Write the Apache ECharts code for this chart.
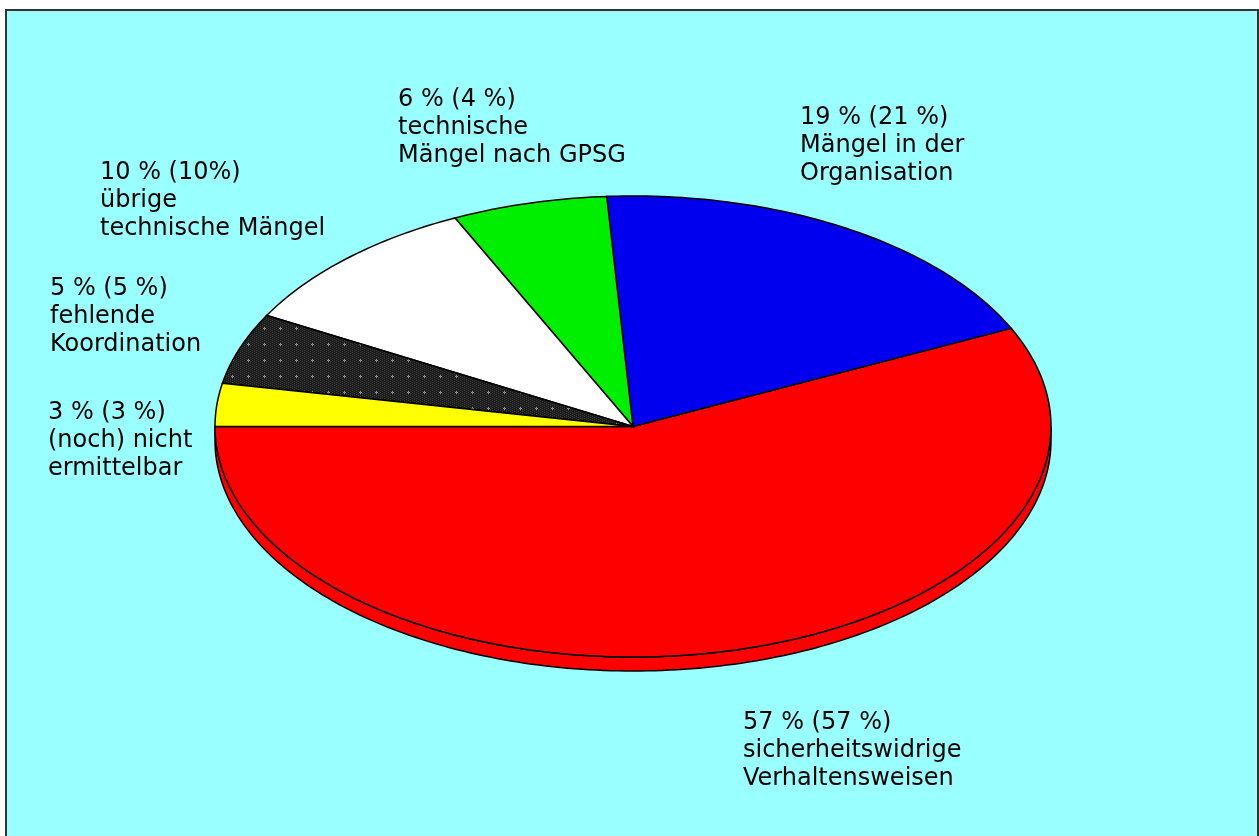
<!DOCTYPE html>
<html>
<head>
<meta charset="utf-8">
<script src="https://cdn.jsdelivr.net/npm/echarts@6/dist/echarts.min.js"></script>
<style>
  html, body { margin: 0; padding: 0; background: #fff; }
  #chart { width: 1259px; height: 836px; }
</style>
</head>
<body>
<div id="chart"></div>
<script>
// Anteile in %, Reihenfolge ab 9 Uhr gegen den Uhrzeigersinn
var shares = [57, 19, 6, 10, 5, 3];
var sharesPrev = [57, 21, 4, 10, 5, 3];
var categories = [
    'sicherheitswidrige\nVerhaltensweisen',
    'Mängel in der\nOrganisation',
    'technische\nMängel nach GPSG',
    'übrige\ntechnische Mängel',
    'fehlende\nKoordination',
    '(noch) nicht\nermittelbar'
];
var labelHead = ['57 % (57 %)', '19 % (21 %)', '6 % (4 %)', '10 % (10%)', '5 % (5 %)', '3 % (3 %)'];

// Punktraster für "fehlende Koordination"
var dots = document.createElement('canvas');
dots.width = 16; dots.height = 16;
var dctx = dots.getContext('2d');
dctx.fillStyle = '#1c1c1c';
dctx.fillRect(0, 0, 16, 16);
dctx.fillStyle = '#3a3a3a';
for (var i = 0; i < 16; i += 2) {
    for (var j = (i / 2) % 2; j < 16; j += 2) dctx.fillRect(i, j, 1, 1);
}
dctx.fillStyle = '#8a8a8a';
dctx.fillRect(7, 8, 3, 1);
dctx.fillRect(8, 7, 1, 3);

var colors = ['#ff0000', '#0000ee', '#00ee00', '#ffffff', {image: dots, repeat: 'repeat'}, '#ffff00'];

var total = shares.reduce(function (a, b) { return a + b; }, 0);
var startAngles = [];
var acc = 180;
shares.forEach(function (v) { startAngles.push(acc); acc += v / total * 360; });

var thick = 14;
var rad = Math.PI / 180;

function renderSlice(params, api) {
    var idx = params.dataIndex;
    var a0 = startAngles[idx];
    var a1 = a0 + api.value(0) / total * 360;
    var center = api.coord([0, 0]);
    function pt(a) { return api.coord([Math.cos(a * rad), Math.sin(a * rad)]); }

    var children = [];
    // Seitenwand (nur unterer Halbbogen sichtbar)
    [[180, 360], [540, 720]].forEach(function (rng) {
        var s = Math.max(a0, rng[0]), e = Math.min(a1, rng[1]);
        if (e <= s) return;
        var top = [], bot = [];
        for (var a = s; a <= e + 0.001; a += 1) top.push(pt(Math.min(a, e)));
        for (var k = top.length - 1; k >= 0; k--) bot.push([top[k][0], top[k][1] + thick]);
        children.push({
            type: 'polygon',
            shape: {points: top.concat(bot)},
            style: {fill: colors[idx], stroke: '#000', lineWidth: 1.5}
        });
    });
    var pts = [center];
    for (var a = a0; a <= a1 + 0.001; a += 1) pts.push(pt(Math.min(a, a1)));
    pts.push(pt(a1));
    children.push({
        type: 'polygon',
        shape: {points: pts},
        style: {fill: colors[idx], stroke: '#000', lineWidth: 1.5}
    });
    return {type: 'group', children: children};
}

var labelPos = [[743, 709], [800, 104], [398, 86], [100, 159], [50, 275], [48, 399]];
var textFont = '24px "DejaVu Sans", sans-serif';

var graphics = [{
    type: 'rect',
    shape: {x: 6, y: 10, width: 1252, height: 840},
    style: {fill: '#99ffff', stroke: '#333', lineWidth: 2},
    z: -10
}];
labelHead.forEach(function (h, i) {
    graphics.push({
        type: 'text',
        x: labelPos[i][0],
        y: labelPos[i][1],
        style: {
            text: h + '\n' + categories[i],
            font: textFont,
            fill: '#000',
            lineHeight: 28,
            verticalAlign: 'top'
        },
        z: 10
    });
});

var chart = echarts.init(document.getElementById('chart'));
chart.setOption({
    animation: false,
    graphic: graphics,
    grid: {left: 215, top: 196, width: 836, height: 461},
    xAxis: {type: 'value', min: -1, max: 1, show: false},
    yAxis: {type: 'value', min: -1, max: 1, show: false},
    series: [{
        type: 'custom',
        coordinateSystem: 'cartesian2d',
        renderItem: renderSlice,
        data: shares.map(function (v, i) { return {value: [v, sharesPrev[i]], name: categories[i]}; }),
        z: 5
    }]
});
</script>
</body>
</html>
